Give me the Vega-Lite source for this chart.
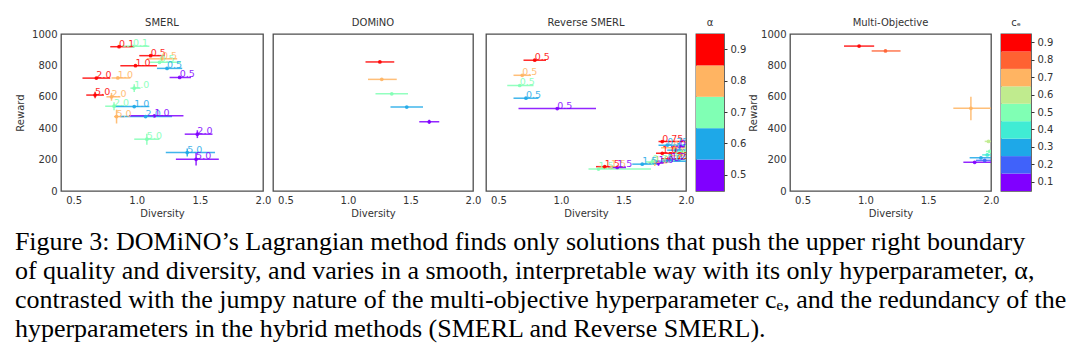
{
  "$schema": "https://vega.github.io/schema/vega-lite/v6.json",
  "padding": {"left": 14, "top": 17, "right": 5, "bottom": 5},
  "config": {
    "font": "DejaVu Sans",
    "view": {"stroke": "#4d4d4d", "strokeWidth": 1.3},
    "axis": {"domain": false, "ticks": false, "grid": false, "labelFontSize": 10, "labelColor": "#333", "titleFontSize": 10, "titleFontWeight": "normal", "titleColor": "#333", "labelPadding": 4, "titlePadding": 3, "labelFlush": false, "labelOverlap": false},
    "axisY": {"titlePadding": 6},
    "title": {"fontSize": 10, "fontWeight": "normal", "color": "#333", "offset": 6}
  },
  "title": {
    "text": [
      "Figure 3: DOMiNO’s Lagrangian method finds only solutions that push the upper right boundary",
      "of quality and diversity, and varies in a smooth, interpretable way with its only hyperparameter, α,",
      "contrasted with the jumpy nature of the multi-objective hyperparameter cₑ, and the redundancy of the",
      "hyperparameters in the hybrid methods (SMERL and Reverse SMERL)."
    ],
    "orient": "bottom", "anchor": "start", "font": "Liberation Serif", "fontSize": 26, "fontWeight": "normal",
    "color": "#000", "lineHeight": 29, "offset": 10
  },
  "datasets": {
    "pts": [
      {"p": "SMERL", "a": 0.9, "lab": "0.1", "x": 0.86, "xl": 0.79, "xh": 0.98, "y": 919},
      {"p": "SMERL", "a": 0.9, "lab": "0.5", "x": 1.11, "xl": 1.02, "xh": 1.22, "y": 862},
      {"p": "SMERL", "a": 0.9, "lab": "1.0", "x": 0.99, "xl": 0.87, "xh": 1.16, "y": 798},
      {"p": "SMERL", "a": 0.9, "lab": "2.0", "x": 0.68, "xl": 0.57, "xh": 0.79, "y": 719},
      {"p": "SMERL", "a": 0.9, "lab": "5.0", "x": 0.67, "xl": 0.6, "xh": 0.74, "y": 611, "yl": 590, "yh": 632},
      {"p": "SMERL", "a": 0.8, "lab": "0.5", "x": 1.2, "xl": 1.08, "xh": 1.32, "y": 842},
      {"p": "SMERL", "a": 0.8, "lab": "1.0", "x": 0.85, "xl": 0.8, "xh": 0.95, "y": 720},
      {"p": "SMERL", "a": 0.8, "lab": "2.0", "x": 0.8, "xl": 0.76, "xh": 0.87, "y": 600, "yl": 575, "yh": 625},
      {"p": "SMERL", "a": 0.8, "lab": "5.0", "x": 0.84, "xl": 0.82, "xh": 0.9, "y": 474, "yl": 430, "yh": 518},
      {"p": "SMERL", "a": 0.7, "lab": "0.1", "x": 0.97, "xl": 0.88, "xh": 1.1, "y": 922},
      {"p": "SMERL", "a": 0.7, "lab": "0.5", "x": 1.18, "xl": 1.1, "xh": 1.35, "y": 820},
      {"p": "SMERL", "a": 0.7, "lab": "1.0", "x": 0.98, "xl": 0.95, "xh": 1.03, "y": 655, "yl": 630, "yh": 680},
      {"p": "SMERL", "a": 0.7, "lab": "2.0", "x": 0.82, "xl": 0.75, "xh": 0.9, "y": 540, "yl": 515, "yh": 565},
      {"p": "SMERL", "a": 0.7, "lab": "5.0", "x": 1.08, "xl": 0.98, "xh": 1.18, "y": 330, "yl": 295, "yh": 365},
      {"p": "SMERL", "a": 0.6, "lab": "0.5", "x": 1.24, "xl": 1.16, "xh": 1.36, "y": 781},
      {"p": "SMERL", "a": 0.6, "lab": "1.0", "x": 0.98, "xl": 0.82, "xh": 1.1, "y": 538},
      {"p": "SMERL", "a": 0.6, "lab": "2.0", "x": 1.07, "xl": 0.87, "xh": 1.28, "y": 474},
      {"p": "SMERL", "a": 0.6, "lab": "5.0", "x": 1.4, "xl": 1.23, "xh": 1.62, "y": 245, "yl": 220, "yh": 270},
      {"p": "SMERL", "a": 0.5, "lab": "0.5", "x": 1.34, "xl": 1.26, "xh": 1.43, "y": 723},
      {"p": "SMERL", "a": 0.5, "lab": "1.0", "x": 1.14, "xl": 0.94, "xh": 1.37, "y": 479},
      {"p": "SMERL", "a": 0.5, "lab": "2.0", "x": 1.48, "xl": 1.38, "xh": 1.6, "y": 362, "yl": 337, "yh": 387},
      {"p": "SMERL", "a": 0.5, "lab": "5.0", "x": 1.47, "xl": 1.31, "xh": 1.65, "y": 202, "yl": 162, "yh": 242},
      {"p": "DOMiNO", "a": 0.9, "x": 1.255, "xl": 1.14, "xh": 1.37, "y": 822},
      {"p": "DOMiNO", "a": 0.8, "x": 1.27, "xl": 1.16, "xh": 1.39, "y": 711},
      {"p": "DOMiNO", "a": 0.7, "x": 1.35, "xl": 1.22, "xh": 1.48, "y": 619},
      {"p": "DOMiNO", "a": 0.6, "x": 1.47, "xl": 1.34, "xh": 1.6, "y": 535},
      {"p": "DOMiNO", "a": 0.5, "x": 1.65, "xl": 1.57, "xh": 1.73, "y": 441, "yl": 428, "yh": 454},
      {"p": "RS", "a": 0.9, "lab": "0.5", "x": 0.79, "xl": 0.7, "xh": 0.88, "y": 833},
      {"p": "RS", "a": 0.9, "lab": "0.75", "x": 1.81, "xl": 1.78, "xh": 2.1, "y": 315},
      {"p": "RS", "a": 0.9, "lab": "1.0", "x": 1.81, "xl": 1.76, "xh": 2.1, "y": 240},
      {"p": "RS", "a": 0.9, "lab": "1.25", "x": 1.86, "xl": 1.8, "xh": 2.1, "y": 205},
      {"p": "RS", "a": 0.9, "lab": "1.5", "x": 1.35, "xl": 1.28, "xh": 1.42, "y": 155},
      {"p": "RS", "a": 0.8, "lab": "0.5", "x": 0.69, "xl": 0.62, "xh": 0.76, "y": 737},
      {"p": "RS", "a": 0.8, "lab": "0.75", "x": 1.9, "xl": 1.8, "xh": 2.1, "y": 275},
      {"p": "RS", "a": 0.8, "lab": "1.0", "x": 1.75, "xl": 1.7, "xh": 1.85, "y": 180, "yl": 160, "yh": 200},
      {"p": "RS", "a": 0.8, "lab": "1.25", "x": 1.95, "xl": 1.88, "xh": 2.1, "y": 225},
      {"p": "RS", "a": 0.8, "lab": "1.5", "x": 1.4, "xl": 1.3, "xh": 1.5, "y": 150},
      {"p": "RS", "a": 0.7, "lab": "0.5", "x": 0.67, "xl": 0.57, "xh": 0.78, "y": 672},
      {"p": "RS", "a": 0.7, "lab": "0.75", "x": 1.73, "xl": 1.68, "xh": 1.78, "y": 185, "yl": 165, "yh": 205},
      {"p": "RS", "a": 0.7, "lab": "1.0", "x": 1.9, "xl": 1.8, "xh": 2.1, "y": 200},
      {"p": "RS", "a": 0.7, "lab": "1.25", "x": 1.97, "xl": 1.9, "xh": 2.1, "y": 250},
      {"p": "RS", "a": 0.7, "lab": "1.5", "x": 1.3, "xl": 1.22, "xh": 1.72, "y": 140},
      {"p": "RS", "a": 0.6, "lab": "0.5", "x": 0.72, "xl": 0.62, "xh": 0.82, "y": 591},
      {"p": "RS", "a": 0.6, "lab": "0.75", "x": 1.85, "xl": 1.78, "xh": 2.1, "y": 292},
      {"p": "RS", "a": 0.6, "lab": "1.0", "x": 1.85, "xl": 1.75, "xh": 2.1, "y": 190},
      {"p": "RS", "a": 0.6, "lab": "1.25", "x": 1.92, "xl": 1.85, "xh": 2.1, "y": 260},
      {"p": "RS", "a": 0.6, "lab": "1.5", "x": 1.65, "xl": 1.57, "xh": 1.78, "y": 171},
      {"p": "RS", "a": 0.5, "lab": "0.5", "x": 0.97, "xl": 0.66, "xh": 1.28, "y": 525},
      {"p": "RS", "a": 0.5, "lab": "0.75", "x": 1.95, "xl": 1.88, "xh": 2.1, "y": 282},
      {"p": "RS", "a": 0.5, "lab": "1.0", "x": 1.78, "xl": 1.75, "xh": 1.82, "y": 178, "yl": 160, "yh": 196},
      {"p": "RS", "a": 0.5, "lab": "1.25", "x": 1.88, "xl": 1.82, "xh": 1.95, "y": 195},
      {"p": "RS", "a": 0.5, "lab": "1.5", "x": 1.45, "xl": 1.38, "xh": 1.52, "y": 150},
      {"p": "MO", "a": 0.9, "x": 0.95, "xl": 0.83, "xh": 1.07, "y": 923},
      {"p": "MO", "a": 0.8, "x": 1.16, "xl": 1.05, "xh": 1.28, "y": 892},
      {"p": "MO", "a": 0.7, "x": 1.84, "xl": 1.7, "xh": 2.1, "y": 527, "yl": 450, "yh": 600},
      {"p": "MO", "a": 0.6, "x": 1.98, "xl": 1.95, "xh": 2.1, "y": 316},
      {"p": "MO", "a": 0.5, "x": 1.99, "xl": 1.96, "xh": 2.1, "y": 252},
      {"p": "MO", "a": 0.4, "x": 1.97, "xl": 1.93, "xh": 2.1, "y": 230},
      {"p": "MO", "a": 0.3, "x": 1.92, "xl": 1.83, "xh": 2.1, "y": 211},
      {"p": "MO", "a": 0.2, "x": 1.95, "xl": 1.88, "xh": 2.1, "y": 195},
      {"p": "MO", "a": 0.1, "x": 1.87, "xl": 1.78, "xh": 2.0, "y": 183}
    ],
    "alpha": [{"v": 0.5}, {"v": 0.6}, {"v": 0.7}, {"v": 0.8}, {"v": 0.9}],
    "ce": [{"v": 0.1}, {"v": 0.2}, {"v": 0.3}, {"v": 0.4}, {"v": 0.5}, {"v": 0.6}, {"v": 0.7}, {"v": 0.8}, {"v": 0.9}]
  },
  "resolve": {"scale": {"color": "independent", "x": "independent", "y": "independent"}},
  "spacing": 0,
  "hconcat": [
    {
      "resolve": {"scale": {"color": "independent", "x": "independent", "y": "independent"}},
      "spacing": 3,
      "hconcat": [
        {
          "resolve": {"scale": {"color": "independent", "x": "independent", "y": "independent"}},
          "spacing": 0,
          "hconcat": [
            {
              "width": 202, "height": 157, "title": {"text": "SMERL", "offset": 1},
              "data": {"name": "pts"},
              "transform": [{"filter": "datum.p == 'SMERL'"}],
              "encoding": {"color": {"field": "a", "type": "ordinal", "scale": {"domain": [0.5, 0.6, 0.7, 0.8, 0.9], "range": ["#8000ff", "#1ea8e8", "#80ffb4", "#ffb462", "#ff0000"]}, "legend": null}},
              "layer": [
                {"mark": {"type": "rule", "strokeWidth": 1.5, "opacity": 0.85, "clip": true},
                 "encoding": {"x": {"field": "xl", "type": "quantitative", "title": "Diversity", "scale": {"domain": [0.4, 2.0], "nice": false}, "axis": {"values": [0.5, 1.0, 1.5, 2.0], "format": ".1f", "labelOverlap": false}}, "x2": {"field": "xh"},
                   "y": {"field": "y", "type": "quantitative", "title": "Reward", "scale": {"domain": [0, 1000], "nice": false}, "axis": {"values": [0, 200, 400, 600, 800, 1000], "format": "d", "labelOverlap": false, "labelBound": false}}}},
                {"transform": [{"filter": "isValid(datum.yl)"}], "mark": {"type": "rule", "strokeWidth": 1.5, "opacity": 0.85, "clip": true},
                 "encoding": {"x": {"field": "x", "type": "quantitative", "title": "Diversity"}, "y": {"field": "yl", "type": "quantitative", "title": "Reward", "axis": {"values": [0, 200, 400, 600, 800, 1000], "format": "d", "labelOverlap": false}}, "y2": {"field": "yh"}}},
                {"mark": {"type": "point", "filled": true, "size": 14, "opacity": 0.9, "clip": true},
                 "encoding": {"x": {"field": "x", "type": "quantitative", "title": "Diversity"}, "y": {"field": "y", "type": "quantitative", "title": "Reward", "axis": {"values": [0, 200, 400, 600, 800, 1000], "format": "d", "labelOverlap": false}}}},
                {"mark": {"type": "text", "align": "left", "baseline": "alphabetic", "fontSize": 9.5, "opacity": 0.85, "clip": true},
                 "encoding": {"x": {"field": "x", "type": "quantitative", "title": "Diversity"}, "y": {"field": "y", "type": "quantitative", "title": "Reward", "axis": {"values": [0, 200, 400, 600, 800, 1000], "format": "d", "labelOverlap": false}}, "text": {"field": "lab"}}}
              ]
            },
            {
              "width": 200, "height": 157, "title": "DOMiNO",
              "data": {"name": "pts"},
              "transform": [{"filter": "datum.p == 'DOMiNO'"}],
              "encoding": {"color": {"field": "a", "type": "ordinal", "scale": {"domain": [0.5, 0.6, 0.7, 0.8, 0.9], "range": ["#8000ff", "#1ea8e8", "#80ffb4", "#ffb462", "#ff0000"]}, "legend": null}},
              "layer": [
                {"mark": {"type": "rule", "strokeWidth": 1.5, "opacity": 0.85, "clip": true},
                 "encoding": {"x": {"field": "xl", "type": "quantitative", "title": "Diversity", "scale": {"domain": [0.4, 2.0], "nice": false}, "axis": {"values": [0.5, 1.0, 1.5, 2.0], "format": ".1f"}}, "x2": {"field": "xh"},
                   "y": {"field": "y", "type": "quantitative", "scale": {"domain": [0, 1000], "nice": false}, "axis": null}}},
                {"transform": [{"filter": "isValid(datum.yl)"}], "mark": {"type": "rule", "strokeWidth": 1.5, "opacity": 0.85, "clip": true},
                 "encoding": {"x": {"field": "x", "type": "quantitative", "title": "Diversity"}, "y": {"field": "yl", "type": "quantitative", "axis": null}, "y2": {"field": "yh"}}},
                {"mark": {"type": "point", "filled": true, "size": 14, "opacity": 0.9, "clip": true},
                 "encoding": {"x": {"field": "x", "type": "quantitative", "title": "Diversity"}, "y": {"field": "y", "type": "quantitative", "axis": null}}}
              ]
            }
          ]
        },
        {
          "resolve": {"scale": {"color": "independent", "x": "independent", "y": "independent"}},
          "spacing": 0,
          "hconcat": [
            {
              "width": 200, "height": 157, "title": "Reverse SMERL",
              "data": {"name": "pts"},
              "transform": [{"filter": "datum.p == 'RS'"}],
              "encoding": {"color": {"field": "a", "type": "ordinal", "scale": {"domain": [0.5, 0.6, 0.7, 0.8, 0.9], "range": ["#8000ff", "#1ea8e8", "#80ffb4", "#ffb462", "#ff0000"]}, "legend": null}},
              "layer": [
                {"mark": {"type": "rule", "strokeWidth": 1.5, "opacity": 0.85, "clip": true},
                 "encoding": {"x": {"field": "xl", "type": "quantitative", "title": "Diversity", "scale": {"domain": [0.4, 2.0], "nice": false}, "axis": {"values": [0.5, 1.0, 1.5, 2.0], "format": ".1f"}}, "x2": {"field": "xh"},
                   "y": {"field": "y", "type": "quantitative", "scale": {"domain": [0, 1000], "nice": false}, "axis": null}}},
                {"transform": [{"filter": "isValid(datum.yl)"}], "mark": {"type": "rule", "strokeWidth": 1.5, "opacity": 0.85, "clip": true},
                 "encoding": {"x": {"field": "x", "type": "quantitative", "title": "Diversity"}, "y": {"field": "yl", "type": "quantitative", "axis": null}, "y2": {"field": "yh"}}},
                {"mark": {"type": "point", "filled": true, "size": 14, "opacity": 0.9, "clip": true},
                 "encoding": {"x": {"field": "x", "type": "quantitative", "title": "Diversity"}, "y": {"field": "y", "type": "quantitative", "axis": null}}},
                {"mark": {"type": "text", "align": "left", "baseline": "alphabetic", "fontSize": 9.5, "opacity": 0.85, "clip": true},
                 "encoding": {"x": {"field": "x", "type": "quantitative", "title": "Diversity"}, "y": {"field": "y", "type": "quantitative", "axis": null}, "text": {"field": "lab"}}}
              ]
            },
            {
              "width": 28, "height": 157, "title": "α",
              "data": {"name": "alpha"},
              "mark": {"type": "rect"},
              "encoding": {
                "y": {"field": "v", "type": "ordinal", "sort": "descending", "scale": {"paddingInner": 0, "paddingOuter": 0}, "axis": {"orient": "right", "title": null, "ticks": true, "tickSize": 3, "tickColor": "#333", "labelPadding": 3}},
                "color": {"field": "v", "type": "ordinal", "scale": {"domain": [0.5, 0.6, 0.7, 0.8, 0.9], "range": ["#8000ff", "#1ea8e8", "#80ffb4", "#ffb462", "#ff0000"]}, "legend": null}
              }
            }
          ]
        }
      ]
    },
    {
      "resolve": {"scale": {"color": "independent", "x": "independent", "y": "independent"}},
      "spacing": 0,
      "hconcat": [
        {
          "width": 201, "height": 157, "title": {"text": "Multi-Objective", "offset": 1},
          "data": {"name": "pts"},
          "transform": [{"filter": "datum.p == 'MO'"}],
          "encoding": {"color": {"field": "a", "type": "ordinal", "scale": {"domain": [0.1, 0.2, 0.3, 0.4, 0.5, 0.6, 0.7, 0.8, 0.9], "range": ["#8000ff", "#4062fa", "#1ea8e8", "#40ecd4", "#80ffb4", "#c0eb8e", "#ffb462", "#ff6232", "#ff0000"]}, "legend": null}},
          "layer": [
            {"mark": {"type": "rule", "strokeWidth": 1.5, "opacity": 0.85, "clip": true},
             "encoding": {"x": {"field": "xl", "type": "quantitative", "title": "Diversity", "scale": {"domain": [0.4, 2.0], "nice": false}, "axis": {"values": [0.5, 1.0, 1.5, 2.0], "format": ".1f"}}, "x2": {"field": "xh"},
               "y": {"field": "y", "type": "quantitative", "title": "Reward", "scale": {"domain": [0, 1000], "nice": false}, "axis": {"values": [0, 200, 400, 600, 800, 1000], "format": "d", "labelOverlap": false, "labelBound": false, "titlePadding": 2}}}},
            {"transform": [{"filter": "isValid(datum.yl)"}], "mark": {"type": "rule", "strokeWidth": 1.5, "opacity": 0.85, "clip": true},
             "encoding": {"x": {"field": "x", "type": "quantitative", "title": "Diversity"}, "y": {"field": "yl", "type": "quantitative", "title": "Reward", "axis": {"values": [0, 200, 400, 600, 800, 1000], "format": "d", "labelOverlap": false, "titlePadding": 2}}, "y2": {"field": "yh"}}},
            {"mark": {"type": "point", "filled": true, "size": 14, "opacity": 0.9, "clip": true},
             "encoding": {"x": {"field": "x", "type": "quantitative", "title": "Diversity"}, "y": {"field": "y", "type": "quantitative", "title": "Reward", "axis": {"values": [0, 200, 400, 600, 800, 1000], "format": "d", "labelOverlap": false, "titlePadding": 2}}}}
          ]
        },
        {
          "width": 30, "height": 157, "title": "cₑ",
          "data": {"name": "ce"},
          "mark": {"type": "rect"},
          "encoding": {
            "y": {"field": "v", "type": "ordinal", "sort": "descending", "scale": {"paddingInner": 0, "paddingOuter": 0}, "axis": {"orient": "right", "title": null, "ticks": true, "tickSize": 3, "tickColor": "#333", "labelPadding": 3}},
            "color": {"field": "v", "type": "ordinal", "scale": {"domain": [0.1, 0.2, 0.3, 0.4, 0.5, 0.6, 0.7, 0.8, 0.9], "range": ["#8000ff", "#4062fa", "#1ea8e8", "#40ecd4", "#80ffb4", "#c0eb8e", "#ffb462", "#ff6232", "#ff0000"]}, "legend": null}
          }
        }
      ]
    }
  ]
}
